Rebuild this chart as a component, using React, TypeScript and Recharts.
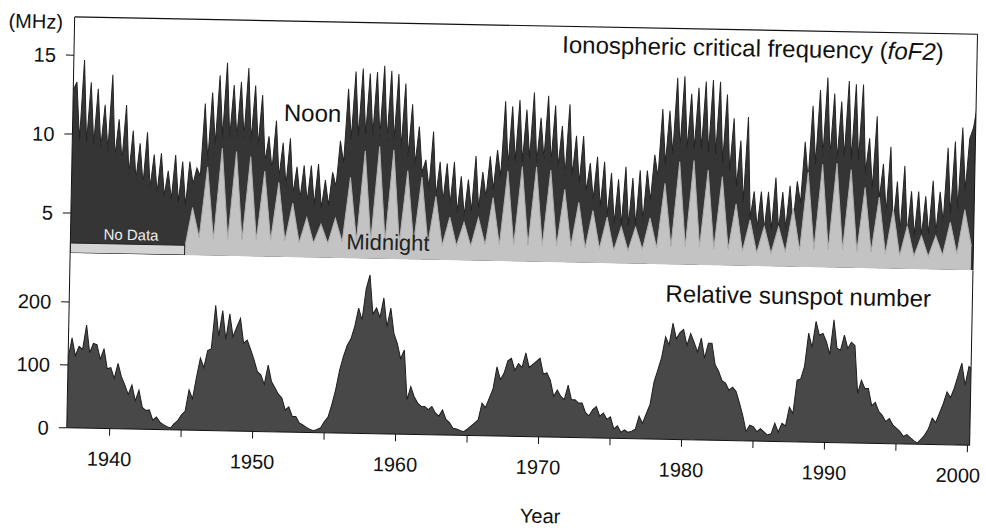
import React from "react";
import { AreaChart, Area, XAxis, YAxis, ReferenceArea, ReferenceLine } from "recharts";

// foF2 at noon, four readings per year (MHz), 1937..2000
const noonMHz: number[][] = [
  [12.8, 13.3, 9.6, 14.7], // 1937
  [9.5, 13.3, 9.4, 12.9],
  [9.2, 11.9, 9.0, 13.8],
  [8.6, 11.0, 8.4, 11.9], // 1940
  [7.5, 10.3, 7.2, 9.5],
  [6.9, 10.2, 6.7, 8.8],
  [6.4, 8.9, 6.2, 7.8],
  [6.0, 8.8, 5.8, 8.4],
  [5.6, 8.4, 7.0, 8.0],
  [7.5, 12.1, 8.5, 12.8],
  [9.5, 13.9, 10.0, 14.7],
  [10.0, 13.3, 10.0, 13.5],
  [10.0, 14.4, 9.8, 13.3],
  [9.5, 12.7, 8.5, 10.1], // 1950
  [8.0, 11.1, 7.5, 9.7],
  [7.0, 10.0, 6.5, 8.2],
  [6.2, 8.3, 6.0, 8.3],
  [5.8, 8.4, 5.6, 7.4],
  [5.8, 7.9, 7.0, 9.9],
  [8.5, 13.2, 10.0, 14.3],
  [10.2, 14.5, 10.3, 14.2],
  [10.3, 14.3, 10.2, 14.7],
  [10.0, 14.4, 10.0, 14.2],
  [9.5, 13.6, 9.0, 12.3], // 1960
  [8.5, 10.9, 8.0, 8.8],
  [7.0, 10.6, 6.5, 8.7],
  [6.2, 8.6, 6.0, 8.7],
  [5.5, 7.8, 5.3, 7.6],
  [5.6, 9.1, 5.8, 8.1],
  [6.5, 9.1, 7.0, 9.5],
  [7.8, 12.6, 8.5, 12.3],
  [8.8, 12.7, 8.8, 12.1],
  [9.0, 13.2, 8.8, 11.6],
  [9.0, 13.0, 8.8, 12.4], // 1970
  [8.5, 11.1, 8.0, 12.5],
  [8.0, 10.5, 7.5, 10.5],
  [7.0, 8.8, 6.5, 9.2],
  [6.0, 8.9, 5.5, 8.2],
  [5.0, 7.8, 4.9, 8.6],
  [4.9, 7.9, 4.9, 8.4],
  [5.2, 8.4, 6.5, 9.4],
  [8.0, 12.3, 8.8, 12.2],
  [9.5, 14.3, 9.8, 14.4],
  [9.8, 13.3, 9.8, 13.7], // 1980
  [9.8, 14.1, 9.6, 14.2],
  [9.5, 14.1, 9.0, 13.3],
  [8.5, 11.8, 7.5, 10.4],
  [6.5, 11.9, 5.5, 7.2],
  [4.9, 7.2, 4.8, 7.2],
  [4.8, 8.1, 4.8, 7.2],
  [4.9, 7.6, 5.2, 7.9],
  [6.5, 10.4, 8.0, 12.7],
  [9.0, 13.7, 9.5, 14.5],
  [9.5, 13.5, 9.3, 13.0], // 1990
  [9.5, 14.3, 9.3, 14.1],
  [9.3, 14.1, 8.5, 10.7],
  [7.5, 12.1, 6.8, 9.1],
  [6.0, 10.2, 5.3, 8.0],
  [4.8, 9.0, 4.7, 7.4],
  [4.6, 7.4, 4.6, 7.1],
  [4.7, 8.1, 4.8, 7.4],
  [5.5, 10.2, 6.0, 10.6],
  [6.3, 11.5, 7.5, 10.8],
  [11.5, 13.0], // 2000
];

// foF2 at midnight, two readings per year (MHz), from 1945 (no data before)
const midnightStart = 1945;
const midnightMHz: number[][] = [
  [2.9, 5.5], // 1945
  [3.6, 8.1],
  [3.5, 9.3],
  [3.5, 9.1],
  [3.5, 8.8],
  [3.5, 7.9], // 1950
  [3.5, 7.2],
  [3.5, 5.9],
  [3.4, 5.0],
  [3.4, 4.6],
  [3.4, 5.0],
  [3.5, 7.6],
  [3.6, 9.3],
  [3.6, 9.6],
  [3.6, 9.4],
  [3.5, 8.1], // 1960
  [3.5, 7.7],
  [3.5, 6.5],
  [3.4, 5.2],
  [3.4, 4.9],
  [3.4, 5.2],
  [3.5, 6.5],
  [3.5, 8.2],
  [3.5, 8.5],
  [3.5, 8.5],
  [3.5, 8.3], // 1970
  [3.5, 7.1],
  [3.5, 6.3],
  [3.4, 5.8],
  [3.4, 5.4],
  [3.3, 4.8],
  [3.3, 4.8],
  [3.4, 5.4],
  [3.5, 7.6],
  [3.6, 9.0],
  [3.6, 9.1], // 1980
  [3.6, 8.5],
  [3.5, 8.1],
  [3.5, 6.4],
  [3.4, 5.4],
  [3.3, 5.0],
  [3.3, 5.0],
  [3.4, 6.2],
  [3.5, 8.5],
  [3.6, 9.0],
  [3.6, 9.1], // 1990
  [3.6, 8.7],
  [3.5, 7.6],
  [3.5, 7.0],
  [3.4, 6.2],
  [3.3, 5.2],
  [3.3, 4.6],
  [3.3, 4.6],
  [3.4, 5.5],
  [3.5, 6.3],
  [4.0, 7.5], // 2000
];

// relative sunspot number, four readings per year, 1937..2000
const sunspotNumber: number[][] = [
  [110, 143, 115, 130], // 1937
  [125, 164, 120, 135],
  [133, 110, 127, 95],
  [97, 80, 104, 83], // 1940
  [70, 55, 70, 45],
  [62, 35, 30, 31],
  [15, 20, 12, 8],
  [5, 3, 10, 15],
  [24, 30, 64, 50],
  [84, 115, 100, 127],
  [130, 199, 150, 191],
  [145, 186, 150, 165],
  [179, 140, 145, 130],
  [114, 95, 90, 75], // 1950
  [106, 80, 70, 60],
  [54, 35, 40, 25],
  [25, 15, 12, 8],
  [5, 3, 5, 8],
  [18, 25, 45, 69],
  [100, 122, 140, 150],
  [170, 199, 180, 230],
  [252, 190, 200, 185],
  [216, 170, 200, 160],
  [144, 120, 134, 55], // 1960
  [76, 60, 50, 45],
  [45, 40, 45, 35],
  [30, 40, 25, 20],
  [11, 10, 8, 6],
  [10, 15, 20, 25],
  [52, 45, 60, 75],
  [110, 90, 100, 120],
  [124, 105, 116, 110],
  [133, 110, 115, 120],
  [125, 100, 102, 90], // 1970
  [65, 75, 65, 60],
  [83, 60, 60, 55],
  [55, 40, 35, 45],
  [50, 35, 40, 30],
  [34, 15, 20, 10],
  [14, 10, 12, 15],
  [36, 25, 40, 55],
  [91, 110, 130, 163],
  [150, 185, 160, 170],
  [175, 150, 169, 155], // 1980
  [140, 162, 130, 154],
  [154, 120, 110, 95],
  [91, 80, 85, 78],
  [60, 40, 15, 25],
  [23, 15, 20, 15],
  [10, 12, 29, 15],
  [29, 25, 55, 45],
  [98, 100, 120, 173],
  [150, 192, 170, 173],
  [160, 140, 195, 150], // 1990
  [147, 171, 150, 160],
  [155, 79, 100, 87],
  [87, 60, 65, 51],
  [45, 35, 40, 30],
  [25, 20, 12, 15],
  [10, 5, 2, 8],
  [15, 25, 42, 35],
  [50, 65, 84, 75],
  [90, 110, 130, 95],
  [125, 120], // 2000
];

const firstYear = 1937;
const yearTicks = [1940, 1945, 1950, 1955, 1960, 1965, 1970, 1975, 1980, 1985, 1990, 1995, 2000];
const mhzTicks = [5, 10, 15];
const sunspotTicks = [0, 100, 200];

const xDomain: [number, number] = [1937, 2000.15];
const mhzDomain: [number, number] = [2.48, 17.42];
const font = "'Liberation Sans', Arial, Helvetica, sans-serif";

const foF2Rows = noonMHz.flatMap((vals, i) =>
  vals.map((v, k) => {
    const year = firstYear + i;
    const night = midnightMHz[year - midnightStart];
    return {
      t: year + k / 4,
      noon: v,
      midnight: night && k % 2 === 0 ? night[k / 2] ?? null : null,
    };
  })
);

const sunRows = sunspotNumber.flatMap((vals, i) =>
  vals.map((v, k) => ({ t: firstYear + i + k / 4, ssn: v }))
);

const tickStyle = { fontSize: 20, fill: "#111", fontFamily: font };

// decade labels only; the last one sits a little left so it stays on the page
function YearTick(props: any) {
  const { x, y, payload } = props;
  const v = payload.value as number;
  if (v % 10 !== 0) return <g />;
  return (
    <text
      x={x}
      y={y}
      dx={v === 2000 ? -9 : 0}
      dy="0.71em"
      textAnchor="middle"
      fontSize={20}
      fill="#111"
      fontFamily={font}
    >
      {v}
    </text>
  );
}

export default function App() {
  return (
    <div style={{ position: "fixed", inset: 0, overflow: "hidden", background: "#fff" }}>
      <div
        style={{
          position: "absolute",
          left: 0,
          top: 0,
          width: 986,
          height: 528,
          transform: "rotate(1.1deg)",
          transformOrigin: "493px 264px",
          fontFamily: font,
        }}
      >
        <div style={{ position: "absolute", left: 0, top: 0 }}>
          <AreaChart
            width={1000}
            height={261}
            data={foF2Rows}
            margin={{ top: 25, right: 14, bottom: 0, left: 0 }}
          >
            <XAxis
              dataKey="t"
              type="number"
              domain={xDomain}
              allowDataOverflow
              height={0}
              tick={false}
              tickLine={false}
              stroke="#111"
            />
            <YAxis
              yAxisId="left"
              width={70}
              domain={mhzDomain}
              ticks={mhzTicks}
              allowDataOverflow
              tickSize={8}
              tickMargin={10}
              tick={tickStyle}
              stroke="#111"
            />
            <YAxis
              yAxisId="right"
              orientation="right"
              width={13}
              domain={mhzDomain}
              ticks={mhzTicks}
              allowDataOverflow
              tickSize={8}
              tick={false}
              stroke="#111"
            />
            <Area
              yAxisId="left"
              type="linear"
              dataKey="noon"
              fill="#353535"
              fillOpacity={1}
              stroke="#252525"
              strokeWidth={1}
              dot={false}
              activeDot={false}
              isAnimationActive={false}
            />
            <Area
              yAxisId="left"
              type="linear"
              dataKey="midnight"
              connectNulls
              fill="#c3c3c3"
              fillOpacity={1}
              stroke="#b0b0b0"
              strokeWidth={1}
              dot={false}
              activeDot={false}
              isAnimationActive={false}
            />
            <ReferenceArea
              yAxisId="left"
              x1={1937}
              x2={1945}
              y1={2.48}
              y2={3.1}
              fill="#d4d4d4"
              fillOpacity={1}
              stroke="#222"
              strokeWidth={1}
              ifOverflow="hidden"
            />
            <ReferenceLine yAxisId="left" y={mhzDomain[1]} stroke="#111" strokeWidth={1.2} />
          </AreaChart>
        </div>

        <div style={{ position: "absolute", left: 0, top: 261 }}>
          <AreaChart
            width={1000}
            height={267}
            data={sunRows}
            margin={{ top: 0, right: 14, bottom: 0, left: 0 }}
          >
            <XAxis
              dataKey="t"
              type="number"
              domain={xDomain}
              allowDataOverflow
              ticks={yearTicks}
              height={92}
              tickSize={7}
              tickMargin={16}
              tick={<YearTick />}
              stroke="#111"
            />
            <YAxis
              yAxisId="left"
              width={70}
              domain={[0, 278]}
              ticks={sunspotTicks}
              allowDataOverflow
              tickSize={8}
              tickMargin={10}
              tick={tickStyle}
              stroke="#111"
            />
            <YAxis
              yAxisId="right"
              orientation="right"
              width={13}
              domain={[0, 278]}
              ticks={sunspotTicks}
              allowDataOverflow
              tickSize={8}
              tick={false}
              stroke="#111"
            />
            <Area
              yAxisId="left"
              type="linear"
              dataKey="ssn"
              fill="#484848"
              fillOpacity={1}
              stroke="#1e1e1e"
              strokeWidth={1}
              dot={false}
              activeDot={false}
              isAnimationActive={false}
            />
          </AreaChart>
        </div>

        <svg
          width={986}
          height={528}
          style={{ position: "absolute", left: 0, top: 0, pointerEvents: "none", overflow: "visible" }}
          fontFamily={font}
        >
          <text x={4} y={37} fontSize={20} fill="#111">(MHz)</text>
          <text x={558} y={51.5} fontSize={24} fill="#111">
            Ionospheric critical frequency (<tspan fontStyle="italic">foF2</tspan>)
          </text>
          <text x={281} y={125} fontSize={24} fill="#111">Noon</text>
          <text x={346} y={252} fontSize={22} fill="#222">Midnight</text>
          <text x={103} y={247} fontSize={15} fill="#eee">No Data</text>
          <text x={666} y={298.5} fontSize={24} fill="#111">Relative sunspot number</text>
          <text x={545} y={522} fontSize={20} fill="#111" textAnchor="middle">Year</text>
        </svg>
      </div>
    </div>
  );
}
